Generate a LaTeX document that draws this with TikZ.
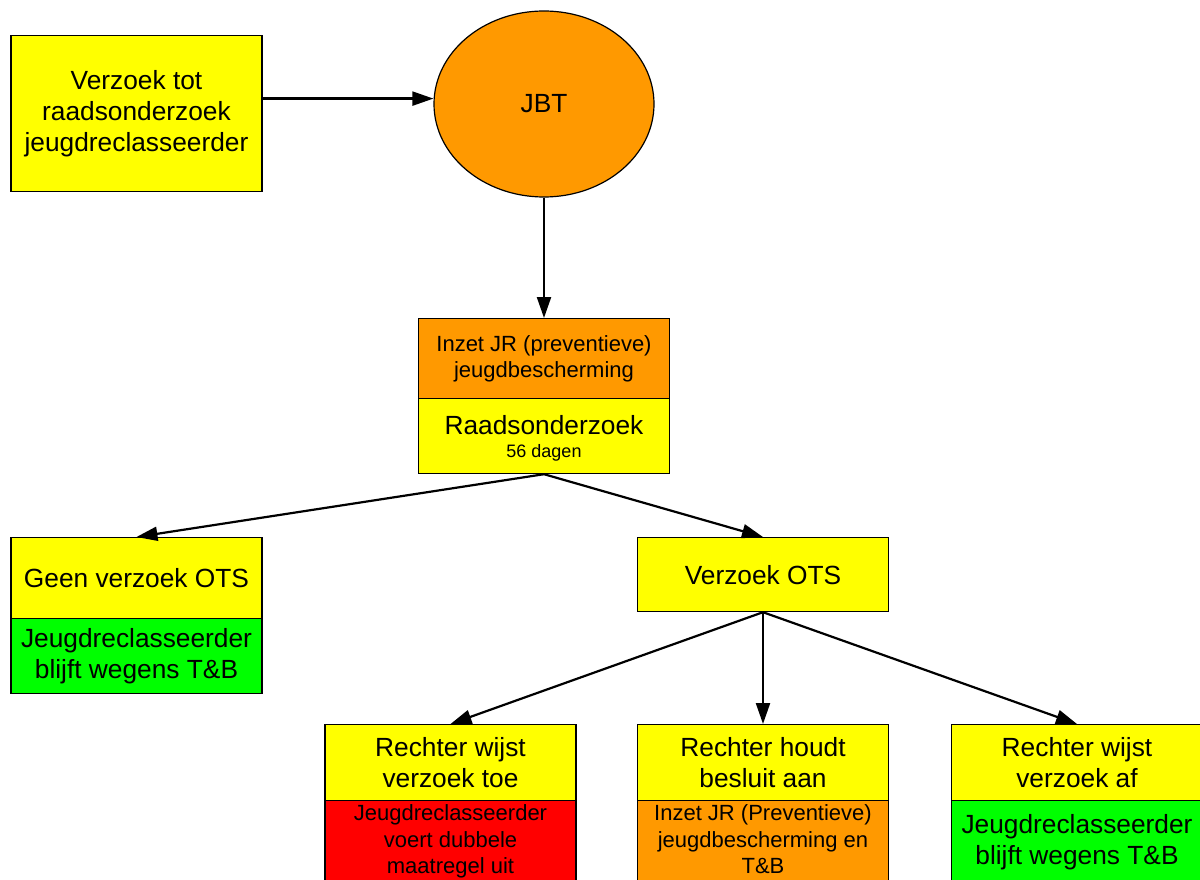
\documentclass[tikz,border=0pt]{standalone}
\usepackage{fontspec}
\setmainfont{Liberation Sans}
\usetikzlibrary{arrows.meta,shapes.geometric}
\definecolor{cyel}{HTML}{FFFF00}
\definecolor{corg}{HTML}{FF9900}
\definecolor{cgrn}{HTML}{00FF00}
\definecolor{cred}{HTML}{FF0000}
\newcommand\fL{\fontsize{26.3}{31}\selectfont}
\newcommand\fM{\fontsize{22}{26.5}\selectfont}
\newcommand\fS{\fontsize{18}{20}\selectfont}
\begin{document}
\begin{tikzpicture}[x=1pt,y=-1pt,
  box/.style={draw=black,line width=1.2pt,minimum width=251pt,inner sep=0pt,align=center,anchor=north},
  txt/.style={inner sep=0pt,align=center},
  arr/.style={draw=black,line width=2.2pt,-{Triangle[length=21pt,width=14pt]}}]
\useasboundingbox (0,0) rectangle (1200,880);
\clip (0,0) rectangle (1200,880);
\node[box,fill=cyel,minimum height=156pt,font=\fL] (req) at (136.5,35) {Verzoek tot\\raadsonderzoek\\jeugdreclasseerder};
\node[ellipse,draw=black,line width=1.2pt,fill=corg,minimum width=220pt,minimum height=186pt,inner sep=0pt,font=\fL] (jbt) at (544,104) {JBT};
\node[box,fill=corg,minimum height=80pt,font=\fM] (jr) at (544,318) {Inzet JR (preventieve)\\jeugdbescherming};
\node[box,fill=cyel,minimum height=75pt] (rod) at (544,398) {};
\node[txt,font=\fL] (rodt) at (544,425) {Raadsonderzoek};
\node[txt,font=\fS] (rodd) at (544,453) {56 dagen};
\node[box,fill=cyel,minimum height=81pt,font=\fL] (geen) at (136.5,537) {Geen verzoek OTS};
\node[box,fill=cgrn,minimum height=75pt,font=\fL] (geeng) at (136.5,618) {Jeugdreclasseerder\\blijft wegens T\&B};
\node[box,fill=cyel,minimum height=74pt,font=\fL] (ots) at (763,537) {Verzoek OTS};
\node[box,fill=cyel,minimum height=76pt,font=\fL] (toe) at (450.5,724) {Rechter wijst\\verzoek toe};
\node[box,fill=cred,minimum height=100pt] (toeb) at (450.5,800) {};
\node[txt,font=\fM] (toet) at (450.5,841.5) {Jeugdreclasseerder\\voert dubbele\\maatregel uit};
\node[box,fill=cyel,minimum height=76pt,font=\fL] (aan) at (763,724) {Rechter houdt\\besluit aan};
\node[box,fill=corg,minimum height=100pt] (aanb) at (763,800) {};
\node[txt,font=\fM] (aant) at (763,839.5) {Inzet JR (Preventieve)\\jeugdbescherming en\\T\&B};
\node[box,fill=cyel,minimum height=76pt,font=\fL] (af) at (1077,724) {Rechter wijst\\verzoek af};
\node[box,fill=cgrn,minimum height=100pt] (afb) at (1077,800) {};
\node[txt,font=\fL] (aft) at (1077,842) {Jeugdreclasseerder\\blijft wegens T\&B};
\draw[arr] ([yshift=15pt]req.east) -- ([yshift=15pt]req.east -| jbt.west);
\draw[arr] (jbt.south) -- (jr.north);
\draw[arr] (rod.south) -- (geen.north);
\draw[arr] (rod.south) -- (ots.north);
\draw[arr] (ots.south) -- (toe.north);
\draw[arr] (ots.south) -- (aan.north);
\draw[arr] (ots.south) -- (af.north);
\end{tikzpicture}
\end{document}
